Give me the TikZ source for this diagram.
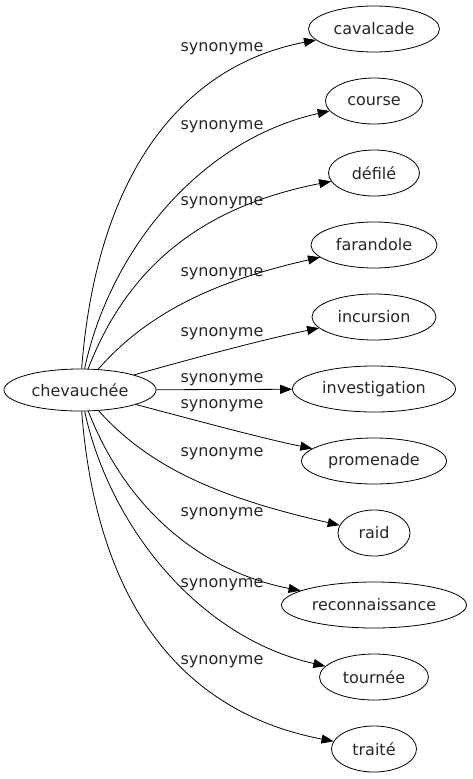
\documentclass[tikz,border=0pt]{standalone}
\usepackage{fontspec}
\setmainfont{DejaVu Sans}
\usetikzlibrary{shapes.geometric,arrows.meta}
\begin{document}
\begin{tikzpicture}[x=1pt,y=-1pt,
  word/.style={ellipse,draw,line width=0.8pt,inner sep=0pt,minimum height=46pt,font=\fontsize{16}{19}\selectfont,text=black!85},
  syn/.style={font=\fontsize{16}{19}\selectfont,anchor=mid,inner sep=0pt,text=black!85},
  rel/.style={line width=0.8pt,-{Triangle[length=12pt,width=9pt]}}]
\useasboundingbox (0,0) rectangle (472,779);
\node[word,minimum width=152pt,minimum height=42pt] (c) at (80,390) {chevauchée};
\node[word,minimum width=131pt] (n1) at (374,29) {cavalcade};
\node[word,minimum width=97pt] (n2) at (374,101) {course};
\node[word,minimum width=91pt] (n3) at (374,173) {défilé};
\node[word,minimum width=126pt] (n4) at (374,245) {farandole};
\node[word,minimum width=124pt] (n5) at (374,317) {incursion};
\node[word,minimum width=163pt] (n6) at (374,389) {investigation};
\node[word,minimum width=145pt] (n7) at (374,461) {promenade};
\node[word,minimum width=72pt] (n8) at (374,533) {raid};
\node[word,minimum width=185pt] (n9) at (374,605) {reconnaissance};
\node[word,minimum width=109pt] (n10) at (374,677) {tournée};
\node[word,minimum width=85pt] (n11) at (374,749) {traité};
\draw[rel] (c) .. controls (97,170) and (185,65) .. (n1);
\draw[rel] (c) .. controls (110,250) and (200,140) .. (n2);
\draw[rel] (c) .. controls (130,260) and (210,205) .. (n3);
\draw[rel] (c) .. controls (150,310) and (220,280) .. (n4);
\draw[rel] (c) .. controls (180,362) and (260,340) .. (n5);
\draw[rel] (c) -- (n6);
\draw[rel] (c) .. controls (180,416) and (260,438) .. (n7);
\draw[rel] (c) .. controls (150,468) and (220,498) .. (n8);
\draw[rel] (c) .. controls (130,518) and (210,573) .. (n9);
\draw[rel] (c) .. controls (110,528) and (200,638) .. (n10);
\draw[rel] (c) .. controls (97,608) and (185,713) .. (n11);
\node[syn] (l1) at (222,49) {synonyme};
\node[syn] (l2) at (222,127) {synonyme};
\node[syn] (l3) at (222,203) {synonyme};
\node[syn] (l4) at (222,274) {synonyme};
\node[syn] (l5) at (222,334) {synonyme};
\node[syn] (l6) at (222,380) {synonyme};
\node[syn] (l7) at (222,406) {synonyme};
\node[syn] (l8) at (222,454) {synonyme};
\node[syn] (l9) at (222,514) {synonyme};
\node[syn] (l10) at (222,585) {synonyme};
\node[syn] (l11) at (222,662) {synonyme};
\end{tikzpicture}
\end{document}
